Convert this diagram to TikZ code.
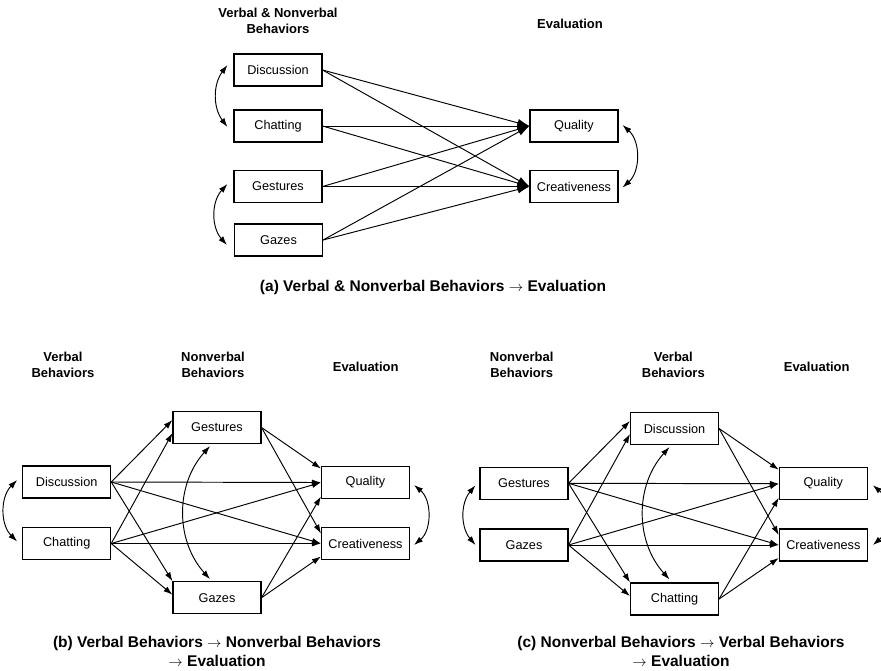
\documentclass[tikz,border=0pt]{standalone}
\usepackage{fontspec}
\setmainfont{Liberation Sans}
\usetikzlibrary{arrows.meta,calc}
\begin{document}
\begin{tikzpicture}[x=1pt,y=-1pt,
  box/.style={draw,line width=1.1pt,minimum width=88pt,minimum height=32pt,inner sep=0pt,font=\fontsize{12.7}{15}\selectfont},
  ttl/.style={align=center,font=\fontsize{13}{16}\selectfont\bfseries},
  captxt/.style={align=center,font=\fontsize{15.5}{19}\selectfont\bfseries},
  arrA/.style={line width=0.95pt,-{Latex[length=12pt,width=8pt]}},
  arr/.style={line width=0.95pt,-{Latex[length=9pt,width=6pt]}},
  corr/.style={line width=0.95pt,{Latex[length=9pt,width=6pt]}-{Latex[length=9pt,width=6pt]}},
]
\useasboundingbox (0,0) rectangle (881,670);

% ---------------- Panel (a) ----------------
\node[ttl] (tA1) at (278,21) {Verbal \& Nonverbal\\Behaviors};
\node[ttl] (tA2) at (570,24) {Evaluation};
\node[box] (dA) at (278,70) {Discussion};
\node[box] (cA) at (278,126) {Chatting};
\node[box] (gA) at (278,186.5) {Gestures};
\node[box] (zA) at (278.5,240) {Gazes};
\node[box] (qA) at (574,126) {Quality};
\node[box] (crA) at (574,186.5) {Creativeness};
\foreach \s in {dA,cA,gA,zA}{
  \draw[arrA] (\s.east) -- (qA.west);
  \draw[arrA] (\s.east) -- (crA.west);
}
\draw[corr] ($(dA.west)+(-6,-5)$) to[bend right=37] ($(cA.west)+(-6,1)$);
\draw[corr] ($(gA.west)+(-6,-2.5)$) to[bend right=42] ($(zA.west)+(-7,5)$);
\draw[corr] ($(qA.east)+(4,-1)$) to[bend left=48] ($(crA.east)+(4,1)$);
\node[captxt] (capA) at (433,287) {(a) Verbal \& Nonverbal Behaviors $\rightarrow$ Evaluation};

% ---------------- Panel (b) ----------------
\node[ttl] (tB1) at (63,365) {Verbal\\Behaviors};
\node[ttl] (tB2) at (213,365) {Nonverbal\\Behaviors};
\node[ttl] (tB3) at (365.7,366.7) {Evaluation};
\node[box] (dB) at (66.7,482) {Discussion};
\node[box] (cB) at (66.7,543.5) {Chatting};
\node[box] (gB) at (217,427.5) {Gestures};
\node[box] (zB) at (217,597.7) {Gazes};
\node[box] (qB) at (365.5,482.5) {Quality};
\node[box] (crB) at (365.5,543.5) {Creativeness};
\draw[arr] (dB.east) -- ($(gB.west)+(0,-7.5)$);
\draw[arr] (cB.east) -- ($(gB.west)+(0,5.5)$);
\draw[arr] (dB.east) -- (zB.north west);
\draw[arr] (cB.east) -- ($(zB.west)+(0,-3)$);
\draw[arr] (dB.east) -- (qB.west);
\draw[arr] (cB.east) -- (qB.west);
\draw[arr] (dB.east) -- (crB.west);
\draw[arr] (cB.east) -- (crB.west);
\draw[arr] (gB.east) -- ($(qB.west)+(0,-14)$);
\draw[arr] (gB.east) -- ($(crB.west)+(0,-10)$);
\draw[arr] (zB.east) -- ($(qB.west)+(0,14)$);
\draw[arr] (zB.east) -- ($(crB.west)+(0,13)$);
\draw[corr] ($(dB.west)+(-5,-2)$) to[bend right=45] ($(cB.west)+(-5,-2)$);
\draw[corr] ($(gB.south)+(-7,2)$) to[bend right=42] ($(zB.north)+(-7,-2)$);
\draw[corr] ($(qB.east)+(4,2.5)$) to[bend left=50] ($(crB.east)+(4,1.5)$);
\node[captxt] (capB) at (217,651) {(b) Verbal Behaviors $\rightarrow$ Nonverbal Behaviors\\$\rightarrow$ Evaluation};

% ---------------- Panel (c) ----------------
\node[ttl] (tC1) at (521.7,365) {Nonverbal\\Behaviors};
\node[ttl] (tC2) at (673.3,365) {Verbal\\Behaviors};
\node[ttl] (tC3) at (816.7,366.7) {Evaluation};
\node[box] (gC) at (524,483.3) {Gestures};
\node[box] (zC) at (524,545) {Gazes};
\node[box] (dC) at (674.5,428.5) {Discussion};
\node[box] (cC) at (674.5,599) {Chatting};
\node[box] (qC) at (823.3,483.7) {Quality};
\node[box] (crC) at (823.3,545) {Creativeness};
\draw[arr] (gC.east) -- ($(dC.west)+(0,-7.5)$);
\draw[arr] (zC.east) -- ($(dC.west)+(0,5.5)$);
\draw[arr] (gC.east) -- (cC.north west);
\draw[arr] (zC.east) -- ($(cC.west)+(0,-3)$);
\draw[arr] (gC.east) -- (qC.west);
\draw[arr] (zC.east) -- (qC.west);
\draw[arr] (gC.east) -- (crC.west);
\draw[arr] (zC.east) -- (crC.west);
\draw[arr] (dC.east) -- ($(qC.west)+(0,-14)$);
\draw[arr] (dC.east) -- ($(crC.west)+(0,-10)$);
\draw[arr] (cC.east) -- ($(qC.west)+(0,14)$);
\draw[arr] (cC.east) -- ($(crC.west)+(0,13)$);
\draw[corr] ($(gC.west)+(-4,2)$) to[bend right=40] ($(zC.west)+(-4,0)$);
\draw[corr] ($(dC.south)+(-5,2)$) to[bend right=42] ($(cC.north)+(-5,-3)$);
\draw[corr] ($(qC.east)+(5,1.5)$) to[bend left=50] ($(crC.east)+(5,0)$);
\node[captxt] (capC) at (681,651) {(c) Nonverbal Behaviors $\rightarrow$ Verbal Behaviors\\$\rightarrow$ Evaluation};
\end{tikzpicture}
\end{document}
